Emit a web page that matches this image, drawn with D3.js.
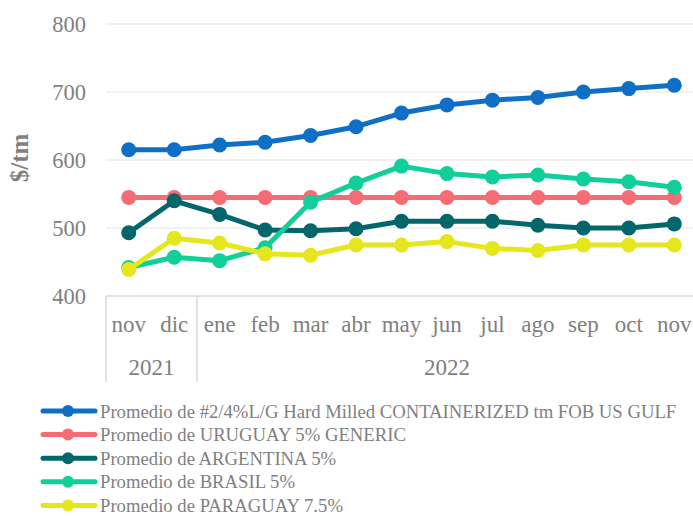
<!DOCTYPE html>
<html>
<head>
<meta charset="utf-8">
<script src="https://cdn.jsdelivr.net/npm/d3@7"></script>
<style>
  body { margin: 0; background: #fff; }
  svg { display: block; font-family: "Liberation Serif", "Times New Roman", serif; }
</style>
</head>
<body>
<svg width="693" height="516"></svg>
<script>
// datos del gráfico
const months = ["nov", "dic", "ene", "feb", "mar", "abr", "may", "jun", "jul", "ago", "sep", "oct", "nov"];
const years = [{ label: "2021", from: 0, to: 2 }, { label: "2022", from: 2, to: 13 }];
const yTicks = [400, 500, 600, 700, 800];

const usGulf    = [615, 615, 622, 626, 636, 649, 669, 681, 688, 692, 700, 705, 710];
const uruguay   = [545, 545, 545, 545, 545, 545, 545, 545, 545, 545, 545, 545, 545];
const argentina = [493, 540, 520, 497, 496, 499, 510, 510, 510, 504, 500, 500, 506];
const brasil    = [442, 457, 452, 471, 538, 566, 591, 580, 575, 578, 572, 568, 560];
const paraguay  = [439, 485, 478, 462, 460, 475, 475, 480, 470, 467, 475, 475, 475];

const seriesNames = [
  "Promedio de #2/4%L/G Hard Milled CONTAINERIZED tm FOB US GULF",
  "Promedio de URUGUAY 5% GENERIC",
  "Promedio de ARGENTINA 5%",
  "Promedio de BRASIL 5%",
  "Promedio de PARAGUAY 7.5%"
];
const seriesValues = [usGulf, uruguay, argentina, brasil, paraguay];
const colors = ["#0F6FC6", "#F66C74", "#02666A", "#10CF9B", "#E6E61C"];

const series = seriesNames.map((name, i) => ({ name: name, values: seriesValues[i], color: colors[i] }));

const svg = d3.select("svg");
const plotLeft = 106, plotRight = 697, plotTop = 24, plotBottom = 296;

const x = d3.scaleBand()
  .domain(d3.range(months.length))
  .range([plotLeft, plotRight]);

const y = d3.scaleLinear()
  .domain([400, 800])
  .range([plotBottom, plotTop]);

// líneas de cuadrícula
svg.append("g")
  .selectAll("line")
  .data(yTicks.slice(1))
  .enter().append("line")
  .attr("x1", plotLeft).attr("x2", 693)
  .attr("y1", d => y(d)).attr("y2", d => y(d))
  .attr("stroke", "#ECECEC")
  .attr("stroke-width", 1.5);

// eje x
svg.append("line")
  .attr("x1", plotLeft).attr("x2", 693)
  .attr("y1", y(400)).attr("y2", y(400))
  .attr("stroke", "#D9D9D9")
  .attr("stroke-width", 1.5);

// etiquetas eje y
svg.append("g")
  .selectAll("text")
  .data(yTicks)
  .enter().append("text")
  .attr("x", 86)
  .attr("y", d => y(d))
  .attr("dy", "0.35em")
  .attr("text-anchor", "end")
  .attr("font-size", 22.5)
  .attr("fill", "#7F7F7F")
  .text(d => d);

// título eje y
svg.append("text")
  .attr("transform", "translate(28,158) rotate(-90)")
  .attr("text-anchor", "middle")
  .attr("font-size", 25)
  .attr("font-weight", "bold")
  .attr("fill", "#7F7F7F")
  .text("$/tm");

// meses
svg.append("g")
  .selectAll("text")
  .data(months)
  .enter().append("text")
  .attr("x", (d, i) => x(i) + x.bandwidth() / 2)
  .attr("y", 332)
  .attr("text-anchor", "middle")
  .attr("font-size", 23)
  .attr("fill", "#7F7F7F")
  .text(d => d);

// años y separadores
const sepXs = [plotLeft].concat(years.slice(1).map(d => x(d.from)));
svg.append("g")
  .selectAll("line")
  .data(sepXs)
  .enter().append("line")
  .attr("x1", d => d).attr("x2", d => d)
  .attr("y1", y(400)).attr("y2", 382)
  .attr("stroke", "#D9D9D9")
  .attr("stroke-width", 1.5);

svg.append("g")
  .selectAll("text")
  .data(years)
  .enter().append("text")
  .attr("x", d => (x(d.from) + (d.to < months.length ? x(d.to) : plotRight)) / 2)
  .attr("y", 375)
  .attr("text-anchor", "middle")
  .attr("font-size", 23)
  .attr("fill", "#7F7F7F")
  .text(d => d.label);

// líneas y marcadores
const line = d3.line()
  .x((d, i) => x(i) + x.bandwidth() / 2)
  .y(d => y(d));

const plot = svg.append("g");
series.forEach(s => {
  plot.append("path")
    .attr("d", line(s.values))
    .attr("fill", "none")
    .attr("stroke", s.color)
    .attr("stroke-width", 5)
    .attr("stroke-linejoin", "round");
  plot.selectAll(null)
    .data(s.values)
    .enter().append("circle")
    .attr("cx", (d, i) => x(i) + x.bandwidth() / 2)
    .attr("cy", d => y(d))
    .attr("r", 7.5)
    .attr("fill", s.color);
});

// leyenda
const legend = svg.append("g")
  .selectAll("g")
  .data(series)
  .enter().append("g")
  .attr("transform", (d, i) => "translate(0," + (411 + i * 23.6) + ")");

legend.append("line")
  .attr("x1", 43).attr("x2", 95)
  .attr("stroke", d => d.color)
  .attr("stroke-width", 5)
  .attr("stroke-linecap", "round");

legend.append("circle")
  .attr("cx", 68)
  .attr("r", 6)
  .attr("fill", d => d.color);

legend.append("text")
  .attr("x", 100)
  .attr("dy", "0.35em")
  .attr("font-size", 18.7)
  .attr("fill", "#7F7F7F")
  .text(d => d.name);
</script>
</body>
</html>
